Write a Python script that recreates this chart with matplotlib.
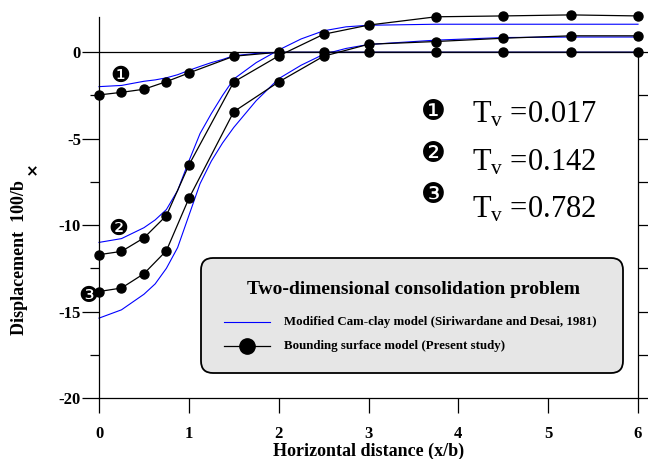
import numpy as np
import matplotlib
matplotlib.use("Agg")
import matplotlib.pyplot as plt
from matplotlib.patches import FancyBboxPatch
from matplotlib.lines import Line2D

plt.rcParams['font.family'] = 'Liberation Serif'
plt.rcParams['axes.unicode_minus'] = False
plt.rcParams['mathtext.fontset'] = 'custom'
plt.rcParams['mathtext.rm'] = 'Liberation Serif'
plt.rcParams['mathtext.it'] = 'Liberation Serif:italic'

# Bounding surface model (present study) - points with markers
x_pts = [0, 0.25, 0.5, 0.75, 1.0, 1.5, 2.0, 2.5, 3.0, 3.75, 4.5, 5.25, 6.0]
bs_1 = [-2.47, -2.32, -2.14, -1.70, -1.20, -0.23, 0.0, 0.0, 0.0, 0.0, 0.0, 0.0, 0.0]
bs_2 = [-11.71, -11.52, -10.74, -9.45, -6.53, -1.72, -0.21, 1.04, 1.57, 2.05, 2.10, 2.16, 2.10]
bs_3 = [-13.84, -13.64, -12.81, -11.48, -8.46, -3.44, -1.72, -0.23, 0.46, 0.62, 0.81, 0.95, 0.95]

# Modified Cam-clay model (Siriwardane and Desai, 1981)
x_cc = [0, 0.25, 0.5, 0.625, 0.75, 0.875, 1.0, 1.125, 1.25, 1.375, 1.5, 1.75,
        2.0, 2.25, 2.5, 2.75, 3.0, 3.75, 4.5, 5.25, 6.0]
cc_1 = [-1.99, -1.92, -1.68, -1.60, -1.48, -1.30, -1.05, -0.82, -0.60, -0.42, -0.20, -0.07,
        0, 0, 0, 0, 0, 0, 0, 0, 0]
cc_2 = [-11.0, -10.78, -10.15, -9.7, -9.1, -8.0, -6.3, -4.7, -3.55, -2.5, -1.55, -0.6,
        0.13, 0.77, 1.24, 1.47, 1.56, 1.62, 1.62, 1.62, 1.62]
cc_3 = [-15.38, -14.9, -14.0, -13.4, -12.5, -11.3, -9.45, -7.6, -6.3, -5.25, -4.35, -2.8,
        -1.53, -0.75, -0.12, 0.22, 0.45, 0.7, 0.85, 0.88, 0.88]

tv_labels = ['0.017', '0.142', '0.782']
nums = ['\u2776', '\u2777', '\u2778']

fig = plt.figure(figsize=(6.48, 4.59), dpi=100)
ax = fig.add_axes([0.1528, 0.1329, 0.8318, 0.8305])

for yb in [cc_1, cc_2, cc_3]:
    ax.plot(x_cc, yb, color='#0000ff', lw=0.8, zorder=2, clip_on=False)
for yk in [bs_1, bs_2, bs_3]:
    ax.plot(x_pts, yk, color='black', lw=0.9, marker='o', ms=6.5, zorder=3, clip_on=False)

ax.axhline(0, color='black', lw=0.9, zorder=1)

ax.set_xlim(0, 6)
ax.set_ylim(-20, 2.05)
ax.spines['top'].set_visible(False)
ax.spines['right'].set_bounds(-20, 0)
for s in ['left', 'bottom', 'right']:
    ax.spines[s].set_linewidth(0.9)

ax.set_xticks(range(0, 7))
ax.set_yticks([0, -5, -10, -15, -20])
ax.set_yticks(np.arange(-17.5, 0, 5), minor=True)
ax.tick_params(axis='y', which='major', direction='out', length=12, width=0.9, pad=1)
ax.tick_params(axis='y', which='minor', direction='out', length=6.5, width=0.9)
ax.tick_params(axis='x', which='major', direction='out', length=11, width=0.9, pad=9)
for lab in ax.get_xticklabels() + ax.get_yticklabels():
    lab.set_fontweight('bold')
    lab.set_fontsize(12)

# right side ticks
ax2 = ax.twinx()
ax2.set_ylim(ax.get_ylim())
for s in ['top', 'left', 'bottom', 'right']:
    ax2.spines[s].set_visible(False)
ax2.set_yticks(np.arange(-20, 0.1, 2.5))
ax2.set_yticklabels([])
ax2.tick_params(axis='y', direction='out', length=10, width=0.9)

ax.set_xlabel('Horizontal distance (x/b)', fontsize=13, fontweight='bold', labelpad=1)
fig.text(0.03, 0.438, 'Displacement  100/b', rotation=90, fontsize=13,
         fontweight='bold', ha='center', va='center')
fig.text(0.049, 0.625, '\u00d7', fontsize=11, fontweight='bold', ha='center', va='center',
         family='DejaVu Sans')

# curve numbers (drawn on the top axes so the spine does not cover them)
ax2.text(0.234, -1.39, nums[0], fontsize=16, ha='center', va='center', family='DejaVu Sans', zorder=5)
ax2.text(0.21, -10.2, nums[1], fontsize=16, ha='center', va='center', family='DejaVu Sans', zorder=5)
ax2.text(-0.12, -14.09, nums[2], fontsize=16, ha='center', va='center', family='DejaVu Sans',
         zorder=5, clip_on=False)

# Tv key
key_y = [-3.48, -5.91, -8.23]
base_y = [-4.06, -6.84, -9.57]
for i in range(3):
    ax2.text(3.72, key_y[i], nums[i], fontsize=20, ha='center', va='center', family='DejaVu Sans')
    ax2.text(4.15, base_y[i], r'$\mathrm{T}_{\mathrm{v}}$ =' + tv_labels[i], fontsize=22,
             ha='left', va='baseline')

# legend box
box = FancyBboxPatch((2.01, 0.86), 4.22, 1.15, boxstyle='round,pad=0,rounding_size=0.12',
                     transform=fig.dpi_scale_trans, facecolor='#e6e6e6', edgecolor='black',
                     lw=1.3, zorder=10)
fig.add_artist(box)
fig.text(4.135, 1.69, 'Two-dimensional consolidation problem', transform=fig.dpi_scale_trans,
         fontsize=14, fontweight='bold', ha='center', va='center', zorder=11)
fig.add_artist(Line2D([2.24, 2.70], [1.372, 1.372], color='#0000ff', lw=0.8,
                      transform=fig.dpi_scale_trans, zorder=11))
fig.add_artist(Line2D([2.24, 2.70], [1.13, 1.13], color='black', lw=0.9,
                      transform=fig.dpi_scale_trans, zorder=11))
fig.add_artist(Line2D([2.47], [1.13], color='black', marker='o', ms=11,
                      transform=fig.dpi_scale_trans, zorder=12))
fig.text(2.84, 1.372, 'Modified Cam-clay model (Siriwardane and Desai, 1981)',
         transform=fig.dpi_scale_trans, fontsize=9.3, fontweight='bold', va='center', zorder=11)
fig.text(2.84, 1.13, 'Bounding surface model (Present study)',
         transform=fig.dpi_scale_trans, fontsize=9.3, fontweight='bold', va='center', zorder=11)

fig.savefig('out.png', dpi=100)
